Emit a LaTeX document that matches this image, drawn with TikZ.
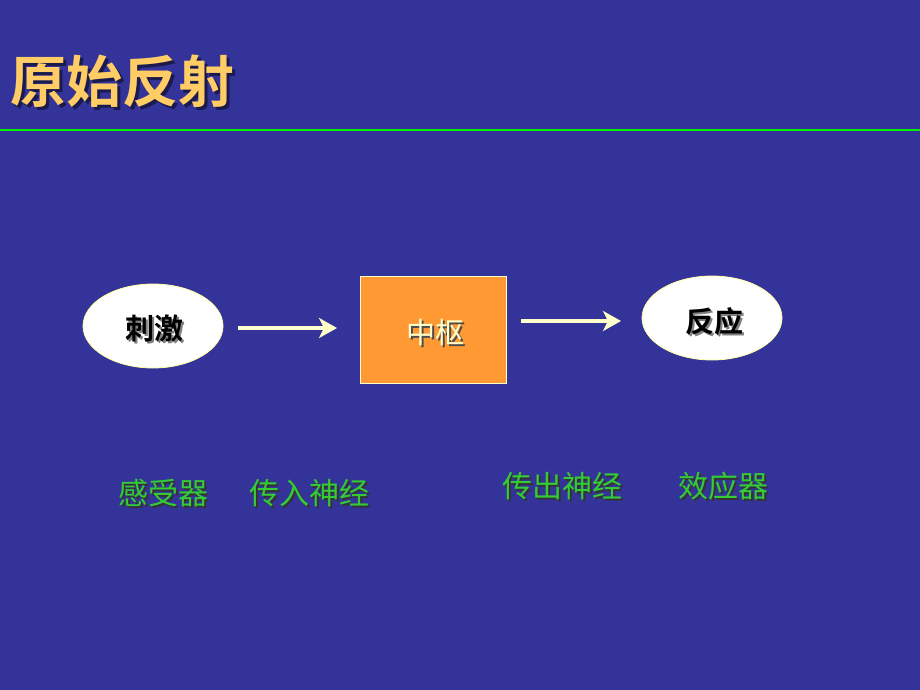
\documentclass[tikz,border=0pt]{standalone}
\usepackage{fontspec}
\newfontfamily\cjk{Noto Sans CJK SC}
\newfontfamily\cjkb{Noto Sans CJK SC Bold}
\usetikzlibrary{arrows.meta,shapes.geometric}
\definecolor{bg}{HTML}{333399}
\definecolor{titlecol}{HTML}{FFCC66}
\definecolor{linegreen}{HTML}{00EE00}
\definecolor{labgreen}{HTML}{33CC33}
\definecolor{cream}{HTML}{FFFFCC}
\definecolor{boxorange}{HTML}{FF9933}
\definecolor{shadowcol}{HTML}{1A1A4D}
% text with a drop shadow, in one box
\newcommand{\shtext}[3]{\rlap{\hspace{#1}\raisebox{-#1}{\color{#2}#3}}#3}
\tikzset{
  oval/.style={ellipse, draw=cream!80!yellow, line width=0.8pt, fill=white, minimum width=140pt, minimum height=84pt, inner sep=0pt},
  centerbox/.style={rectangle, draw=cream, line width=0.8pt, fill=boxorange, minimum width=146pt, minimum height=107pt, inner sep=0pt},
  flow/.style={draw=cream, line width=3.5pt, -{Stealth[length=18pt,width=20pt,inset=5pt]}},
  lab/.style={font=\cjk\fontsize{30}{32}\selectfont, text=labgreen, inner sep=0pt},
  ovaltext/.style={font=\cjkb\fontsize{29}{32}\selectfont, text=black, inner sep=0pt},
}
\begin{document}
\begin{tikzpicture}[x=1pt,y=-1pt]
\fill[bg] (0,0) rectangle (920,690);
\useasboundingbox (0,0) rectangle (920,690);
% title
\node[font=\cjkb\fontsize{56}{60}\selectfont, text=titlecol, inner sep=0pt] (title) at (122,83) {\shtext{3pt}{shadowcol}{原始反射}};
\draw[linegreen, line width=2.2pt] (0,130) -- (920,130);
% nodes
\node[oval] (stim) at (153,326) {};
\node[ovaltext] (stimt) at (154,329) {\shtext{2pt}{gray}{刺激}};
\node[centerbox] (ctr) at (433,329.5) {};
\node[font=\cjk\fontsize{29}{32}\selectfont, text=cream, inner sep=0pt] (ctrt) at (435,333) {\shtext{2pt}{black!70}{中枢}};
\node[oval] (resp) at (712,318) {};
\node[ovaltext] (respt) at (714,322) {\shtext{2pt}{gray}{反应}};
% arrows
\coordinate (a1s) at (238,328);
\coordinate (a1e) at (337,328);
\coordinate (a2s) at (521,321);
\coordinate (a2e) at (621,321);
\draw[flow] (a1s) -- (a1e);
\draw[flow] (a2s) -- (a2e);
% labels
\node[lab] (l1) at (163,494) {\shtext{2pt}{black!80}{感受器}};
\node[lab] (l2) at (309,494) {\shtext{2pt}{black!80}{传入神经}};
\node[lab] (l3) at (562,487) {\shtext{2pt}{black!80}{传出神经}};
\node[lab] (l4) at (723,487) {\shtext{2pt}{black!80}{效应器}};
\end{tikzpicture}
\end{document}
